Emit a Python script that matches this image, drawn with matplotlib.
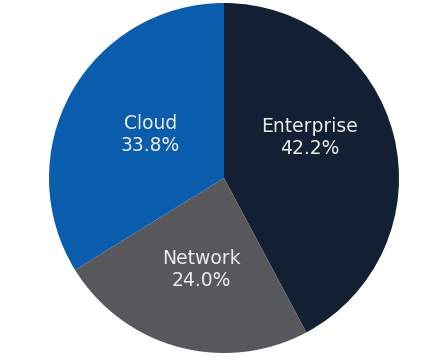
import matplotlib
matplotlib.use("Agg")
import matplotlib.pyplot as plt

# segment data, clockwise from 12 o'clock
segments = ["Enterprise", "Network", "Cloud"]
shares = [42.2, 24.0, 33.8]
colors = ["#131f33", "#58575b", "#0a5cad"]

# label anchor points (pie units, centre = 0,0)
label_pos = {"Enterprise": (0.49, 0.23), "Network": (-0.13, -0.52), "Cloud": (-0.42, 0.25)}

fig = plt.figure(figsize=(4.44, 3.62), dpi=100)
ax = fig.add_axes([0.0, 0.0, 1.0, 1.0])

ax.pie(shares, colors=colors, startangle=90, counterclock=False,
       radius=1.0, wedgeprops={"linewidth": 0})

for name, val in zip(segments, shares):
    x, y = label_pos[name]
    ax.text(x, y, "{}\n{:.1f}%".format(name, val), ha="center", va="center",
            color="#ececec", fontsize=13.5, linespacing=1.2,
            family="DejaVu Sans")

# place the pie: centre at (224, 178) px, radius ~175 px
W, H, R = 444, 362, 175
cx, cy = 224, 178
ax.set_xlim(-cx / R, (W - cx) / R)
ax.set_ylim(-(H - cy) / R, cy / R)
ax.set_aspect("equal")
ax.axis("off")

fig.savefig("out.png", dpi=100)
